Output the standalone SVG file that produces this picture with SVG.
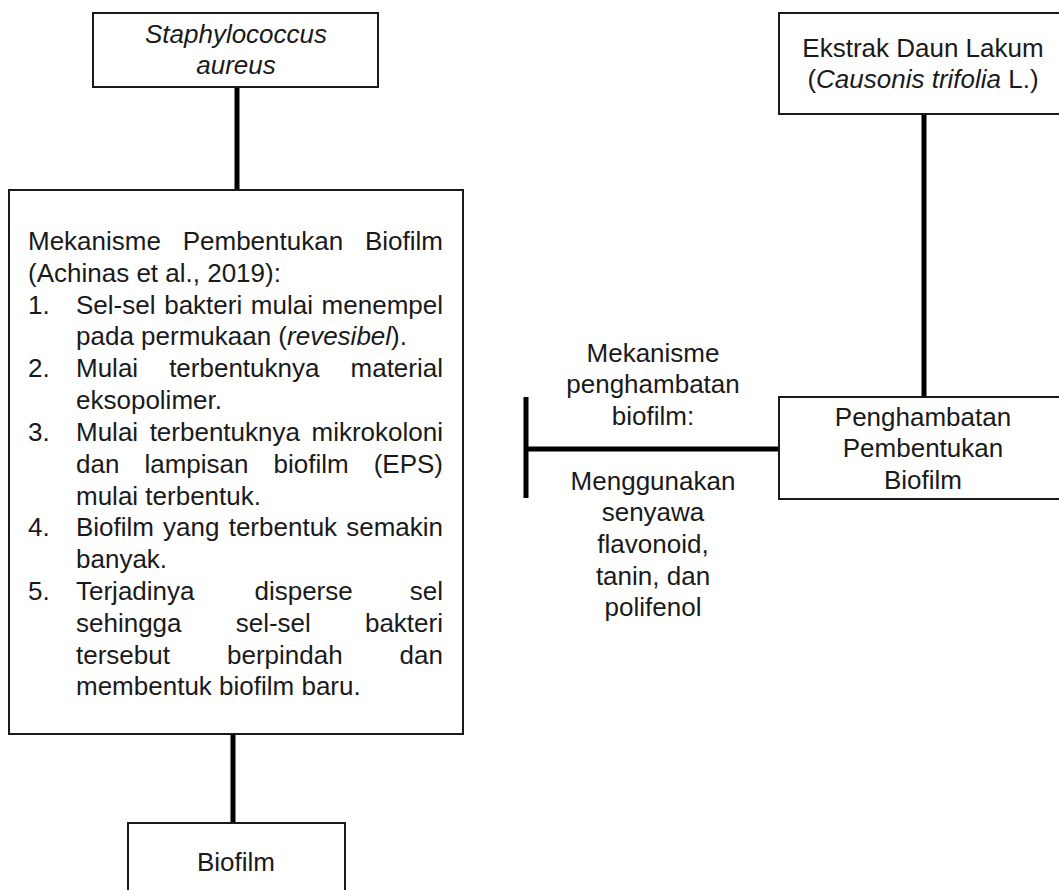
<svg xmlns="http://www.w3.org/2000/svg" width="1059" height="890" viewBox="0 0 1059 890">
<style>
.box{fill:#fff;stroke:#1a1a1a;stroke-width:2}
.con{stroke:#000;stroke-width:5;fill:none}
text{font-family:"Liberation Sans",Arial,sans-serif;font-size:26px;fill:#1a1a1a}
.c{text-anchor:middle}
.e{text-anchor:end}
.i{font-style:italic}
</style>
<rect width="1059" height="890" fill="#fff"/>
<g id="connectors">
<line class="con" x1="237" y1="87" x2="237" y2="190"/>
<line class="con" x1="233" y1="734" x2="233" y2="823"/>
<line class="con" x1="924" y1="114" x2="924" y2="397"/>
<line class="con" x1="526" y1="449" x2="779" y2="449"/>
<line class="con" x1="526" y1="397" x2="526" y2="498"/>
</g>
<g id="staph">
<rect class="box" x="93" y="13" width="285" height="74"/>
<text class="c i" x="236" y="43">Staphylococcus</text>
<text class="c i" x="236" y="74">aureus</text>
</g>
<g id="mekanisme">
<rect class="box" x="9" y="190" width="454" height="544"/>
<text x="28" y="250">Mekanisme</text><text class="c" x="262.9" y="250">Pembentukan</text><text class="e" x="443" y="250">Biofilm</text>
<text x="28" y="282">(Achinas et al., 2019):</text>
<text x="28" y="314">1.</text>
<text x="76" y="314">Sel-sel</text><text class="c" x="203.2" y="314">bakteri</text><text class="c" x="281.9" y="314">mulai</text><text class="e" x="443" y="314">menempel</text>
<text x="76" y="345">pada permukaan (<tspan class="i">revesibel</tspan>).</text>
<text x="28" y="377">2.</text>
<text x="76" y="377">Mulai</text><text class="c" x="244.3" y="377">terbentuknya</text><text class="e" x="443" y="377">material</text>
<text x="76" y="409">eksopolimer.</text>
<text x="28" y="441">3.</text>
<text x="76" y="441">Mulai</text><text class="c" x="224.8" y="441">terbentuknya</text><text class="e" x="443" y="441">mikrokoloni</text>
<text x="76" y="473">dan</text><text class="c" x="196.5" y="473">lampisan</text><text class="c" x="311.1" y="473">biofilm</text><text class="e" x="443" y="473">(EPS)</text>
<text x="76" y="505">mulai terbentuk.</text>
<text x="28" y="536">4.</text>
<text x="76" y="536">Biofilm</text><text class="c" x="191.3" y="536">yang</text><text class="c" x="282.9" y="536">terbentuk</text><text class="e" x="443" y="536">semakin</text>
<text x="76" y="568">banyak.</text>
<text x="28" y="600">5.</text>
<text x="76" y="600">Terjadinya</text><text class="c" x="303.6" y="600">disperse</text><text class="e" x="443" y="600">sel</text>
<text x="76" y="632">sehingga</text><text class="c" x="273.3" y="632">sel-sel</text><text class="e" x="443" y="632">bakteri</text>
<text x="76" y="664">tersebut</text><text class="c" x="284.8" y="664">berpindah</text><text class="e" x="443" y="664">dan</text>
<text x="76" y="695">membentuk biofilm baru.</text>
</g>
<g id="biofilm">
<rect class="box" x="128" y="823" width="217" height="75"/>
<text class="c" x="236" y="871">Biofilm</text>
</g>
<g id="ekstrak">
<rect class="box" x="779" y="13" width="290" height="101"/>
<text class="c" x="923" y="57">Ekstrak Daun Lakum</text>
<text class="c" x="923" y="88">(<tspan class="i">Causonis trifolia</tspan> L.)</text>
</g>
<g id="penghambatan">
<rect class="box" x="779" y="397" width="290" height="102"/>
<text class="c" x="923" y="426">Penghambatan</text>
<text class="c" x="923" y="457">Pembentukan</text>
<text class="c" x="923" y="489">Biofilm</text>
</g>
<g id="label-mekanisme">
<text class="c" x="653" y="362">Mekanisme</text>
<text class="c" x="653" y="393">penghambatan</text>
<text class="c" x="653" y="425">biofilm:</text>
<text class="c" x="653" y="490">Menggunakan</text>
<text class="c" x="653" y="521">senyawa</text>
<text class="c" x="653" y="553">flavonoid,</text>
<text class="c" x="653" y="585">tanin, dan</text>
<text class="c" x="653" y="616">polifenol</text>
</g>
</svg>
